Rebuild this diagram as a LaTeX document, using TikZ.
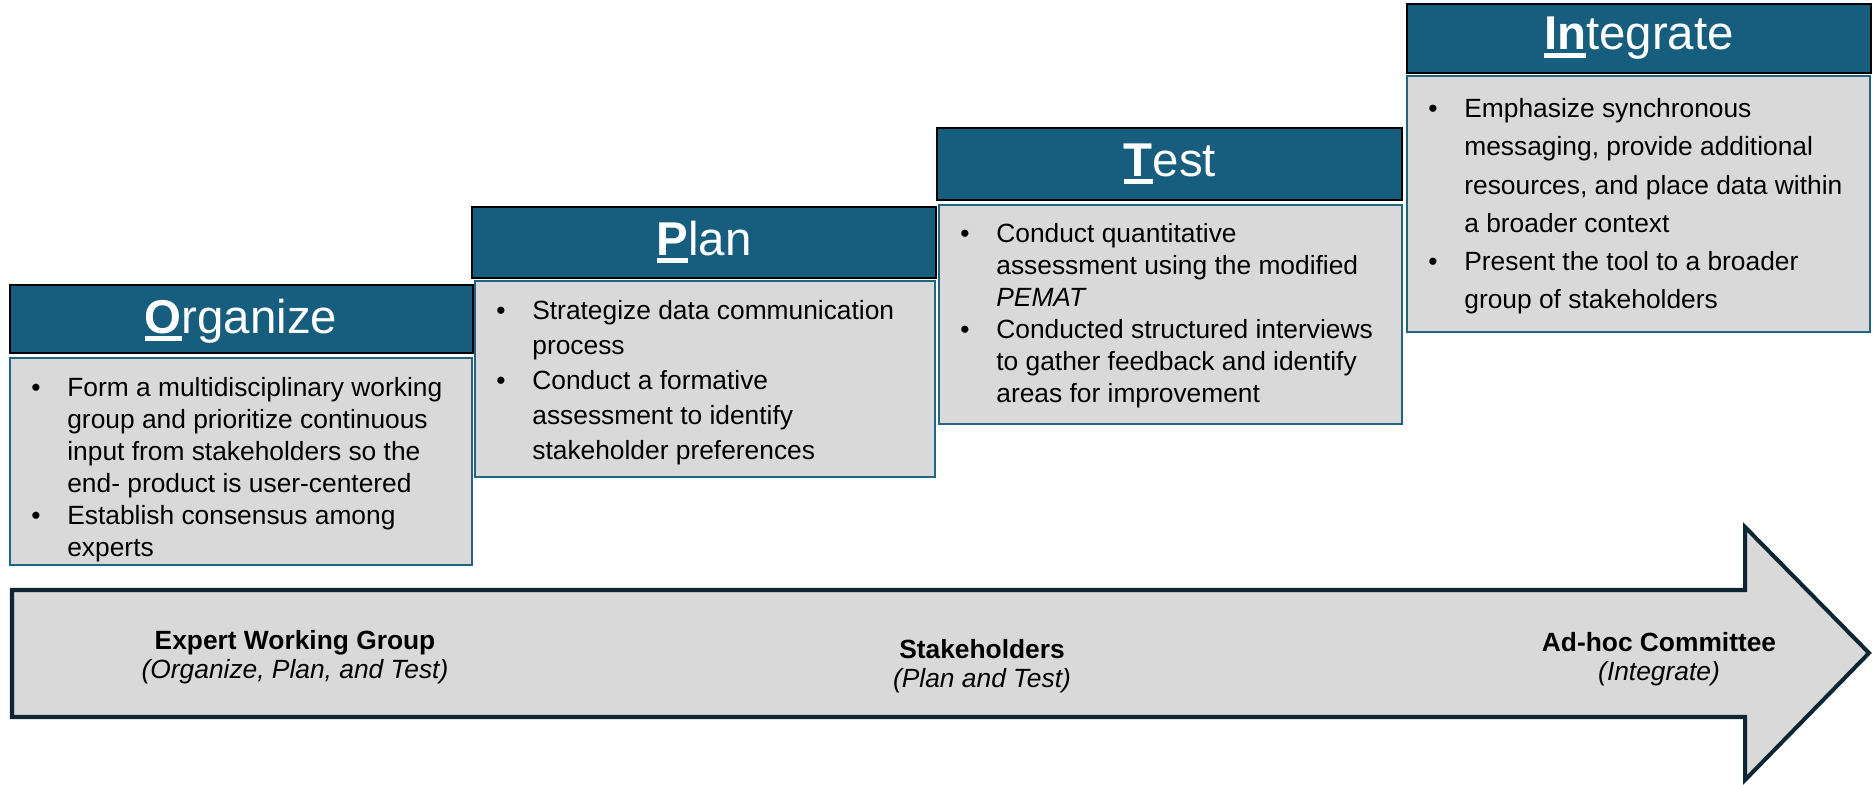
\documentclass[tikz,border=0pt]{standalone}
\usepackage{fontspec}
\setmainfont{Liberation Sans}
\usepackage{tikz}
\definecolor{headblue}{RGB}{23,94,126}
\definecolor{boxgray}{RGB}{217,217,217}
\definecolor{boxline}{RGB}{35,100,130}
\definecolor{arrowline}{RGB}{14,38,52}
\newcommand{\bul}{\makebox[0.72cm][l]{\textbullet}}
\newcommand{\ind}{\hspace*{0.72cm}}
\newcommand{\ulfirst}[1]{\setbox0\hbox{\bfseries #1}\rlap{\rule[-0.17em]{\wd0}{0.1em}}\box0}

\begin{document}
\begin{tikzpicture}[x=0.02cm, y=-0.02cm,
	head/.style={draw=black, line width=1.6pt, fill=headblue},
	body/.style={draw=boxline, line width=1.4pt, fill=boxgray},
	headtxt/.style={text=white, anchor=base, inner sep=0pt, font=\fontsize{27}{32}\selectfont},
	bodytxt/.style={anchor=north west, align=left, inner sep=0pt, font=\fontsize{15}{18.2}\selectfont},
	grouptxt/.style={align=center, inner sep=0pt, font=\fontsize{15}{16.5}\selectfont}]
			%%%%% START %%%%%
			\useasboundingbox (0, 0) rectangle (1875, 784);
			
			% the long arrow
			\draw[line width=2.3pt, draw=arrowline, fill=boxgray] (12, 590) -- (1745, 590) -- (1745, 527) -- (1869, 653) -- (1745, 780) -- (1745, 717) -- (12, 717) -- cycle;
			
			\node[grouptxt] (expert) at (295, 657) {\textbf{Expert Working Group}\\ \textit{(Organize, Plan, and Test)}};
			\node[grouptxt] (stake) at (982, 666) {\textbf{Stakeholders}\\ \textit{(Plan and Test)}};
			\node[grouptxt] (adhoc) at (1659, 659) {\textbf{Ad-hoc Committee}\\ \textit{(Integrate)}};
			
			% Organize
			\draw[head] (10, 285) rectangle (473, 353);
			\draw[body] (10, 358) rectangle (472, 565);
			\node[headtxt] (organize) at (241, 333) {\ulfirst{O}rganize};
			\node[bodytxt] (organizelist) at (31, 377) {\bul Form a multidisciplinary working\\
				\ind group and prioritize continuous\\
				\ind input from stakeholders so the\\
				\ind end- product is user-centered\\
				\bul Establish consensus among\\
				\ind experts};
			
			% Plan
			\draw[head] (472, 207) rectangle (936, 278);
			\draw[body] (475, 281) rectangle (935, 477);
			\node[headtxt] (plan) at (704, 255) {\ulfirst{P}lan};
			\node[bodytxt, font=\fontsize{15}{19.9}\selectfont] (planlist) at (496, 300) {\bul Strategize data communication\\
				\ind process\\
				\bul Conduct a formative\\
				\ind assessment to identify\\
				\ind stakeholder preferences};
			
			% Test
			\draw[head] (937, 128) rectangle (1402, 200);
			\draw[body] (939, 205) rectangle (1402, 424);
			\node[headtxt] (test) at (1170, 176) {\ulfirst{T}est};
			\node[bodytxt] (testlist) at (960, 223) {\bul Conduct quantitative\\
				\ind assessment using the modified\\
				\ind \textit{PEMAT}\\
				\bul Conducted structured interviews\\
				\ind to gather feedback and identify\\
				\ind areas for improvement};
			
			% Integrate
			\draw[head] (1407, 4) rectangle (1871, 73);
			\draw[body] (1407, 76) rectangle (1870, 332);
			\node[headtxt] (integrate) at (1639, 50) {\ulfirst{In}tegrate};
			\node[bodytxt, font=\fontsize{15}{21.8}\selectfont] (integratelist) at (1428, 98) {\bul Emphasize synchronous\\
				\ind messaging, provide additional\\
				\ind resources, and place data within\\
				\ind a broader context\\
				\bul Present the tool to a broader\\
				\ind group of stakeholders};
			
			%%%%% END %%%%%
\end{tikzpicture}
\end{document}
